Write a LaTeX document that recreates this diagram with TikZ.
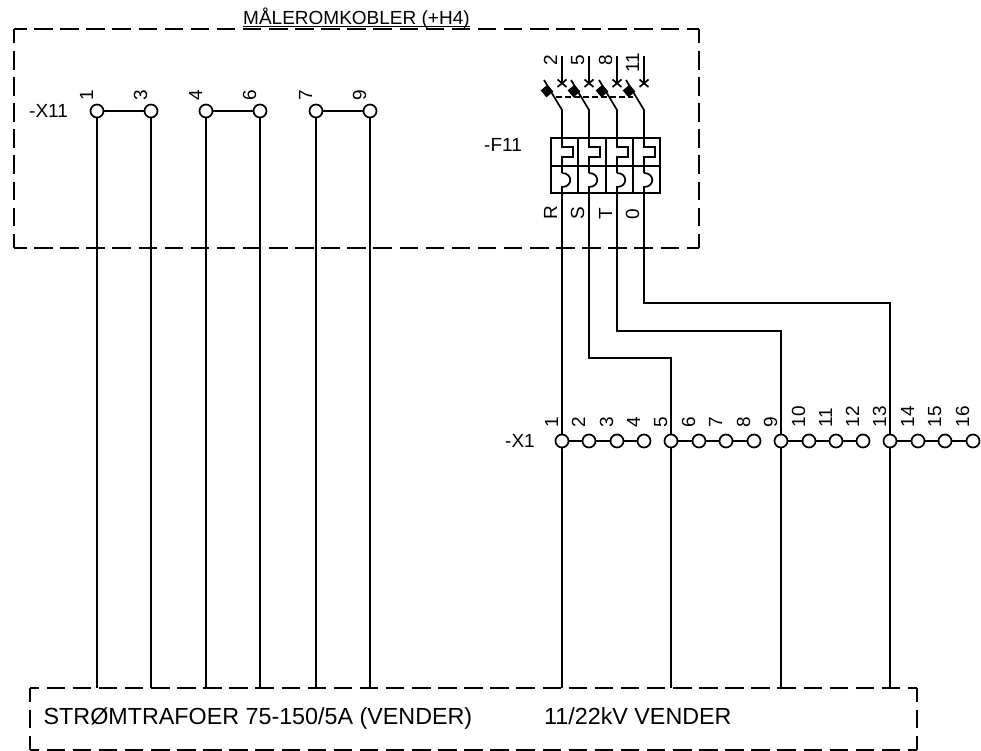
\documentclass[tikz,border=0pt]{standalone}
\usepackage{fontspec}
\setmainfont{Liberation Sans}
\tikzset{
  px/.style={x=1pt,y=-1pt},
  wire/.style={draw=black,line width=1.7pt},
  dashline/.style={draw=black,line width=1.7pt,dash pattern=on 18.5pt off 7.6pt},
  term/.style={circle,draw=black,fill=white,line width=1.7pt,minimum size=13pt,inner sep=0pt,outer sep=0pt},
  lbl/.style={font=\fontsize{19}{21}\selectfont,inner sep=0pt,anchor=base west},
  numl/.style={font=\fontsize{19}{21}\selectfont,inner sep=0pt,rotate=90,anchor=base west},
  big/.style={font=\fontsize{23.3}{25}\selectfont,inner sep=0pt,anchor=base west}
}
\begin{document}
\begin{tikzpicture}[px]
\useasboundingbox (0,0) rectangle (981,751);
% dashed boxes: each side drawn on its own so that the corners carry a dash
\draw[dashline,dash phase=6pt] (14,29) -- (699,29);
\draw[dashline,dash phase=6pt] (14,248) -- (699,248);
\draw[dashline,dash phase=4pt] (14,29) -- (14,248);
\draw[dashline,dash phase=4pt] (699,29) -- (699,248);
\draw[dashline,dash phase=9.5pt] (30,688) -- (917,688);
\draw[dashline,dash phase=9.5pt] (30,750) -- (917,750);
\draw[dashline,dash phase=4.5pt] (30,688) -- (30,750);
\draw[dashline,dash phase=4.5pt] (917,688) -- (917,750);
\node[lbl] (title) at (243,25) {MÅLEROMKOBLER (+H4)};
\draw[line width=1.1pt] (title.base west) ++(0,1.5) -- ++(227,0);
\node[big] (boxa) at (43.5,724) {STRØMTRAFOER 75-150/5A (VENDER)};
\node[big] (boxb) at (544,724) {11/22kV VENDER};
% X11 terminals
\foreach \n/\x/\t in {a/97/1,b/151/3,c/206/4,d/260/6,e/316/7,f/370/9}{
  \coordinate (bot\n) at (\x,688);
  \coordinate (top\n) at (\x,111);
  \draw[wire] (top\n) -- (bot\n);
  \node[term] (xe\n) at (top\n) {};
  \node[numl] (xel\n) at (\x-4,101) {\t};
}
\draw[wire] (xea) -- (xeb);
\draw[wire] (xec) -- (xed);
\draw[wire] (xee) -- (xef);
\node[lbl] (xelabel) at (29,118) {-X11};
% breaker
\node[lbl] (f11) at (484,152) {-F11};
\draw[wire] (551,138) rectangle (660,193);
\draw[wire] (551,166) -- (660,166);
\foreach \x in {578,606,633}{ \draw[wire] (\x,138) -- (\x,193); }
\foreach \n/\x/\t/\ly in {1/562/2/66,2/589/5/66,3/617/8/66,4/644/11/73}{
  \coordinate (ta\n) at (\x,56);
  \coordinate (tb\n) at (\x,84);
  \draw[wire] (ta\n) -- (tb\n);
  \draw[wire] (\x-4.5,79.5) -- (\x+4.5,87);
  \draw[wire] (\x+4.5,79.5) -- (\x-4.5,87);
  \draw[wire] (\x-18,80) -- (\x,110) -- (\x,147) -- (\x+11,147) -- (\x+11,157) -- (\x,157) -- (\x,173);
  \draw[wire] (\x,173) .. controls (\x+11,173) and (\x+11,187) .. (\x,187) -- (\x,193);
  \node[numl] (n\n) at (\x-5,\ly) {\t};
  \fill[black,rotate around={40:(\x-15,91)}] (\x-19.5,86.5) rectangle (\x-10.5,95.5);
}
\draw[wire,dash pattern=on 6pt off 3pt] (556,97) -- (633,97);
\foreach \x/\t in {562/R,589/S,617/T,644/0}{
  \node[numl] (ph\t) at (\x-5,220) {\t};
}
% X1 terminal row
\foreach \x/\t in {562/1,589/2,617/3,644/4,671/5,699/6,726/7,754/8,781/9,809/10,836/11,863/12,890/13,918/14,945/15,973/16}{
  \coordinate (c\t) at (\x,441);
  \coordinate (cb\t) at (\x,688);
}
% wires from breaker to X1 and on to the bottom box
\coordinate (fr) at (562,193);
\coordinate (fs) at (589,193);
\coordinate (ft) at (617,193);
\coordinate (fo) at (644,193);
\draw[wire] (fr) -- (c1) -- (cb1);
\draw[wire] (fs) -- (589,358) -- (671,358) -- (c5) -- (cb5);
\draw[wire] (ft) -- (617,331) -- (781,331) -- (c9) -- (cb9);
\draw[wire] (fo) -- (644,303) -- (890,303) -- (c13) -- (cb13);
\foreach \a/\b in {1/4,5/8,9/12,13/16}{ \draw[wire] (c\a) -- (c\b); }
\foreach \t/\x in {1/562,2/589,3/617,4/644,5/671,6/699,7/726,8/754,9/781,10/809,11/836,12/863,13/890,14/918,15/945,16/973}{
  \node[term] (tx\t) at (c\t) {};
  \node[numl] (tl\t) at (\x-4,427.5) {\t};
}
\node[lbl] (xone) at (505,447) {-X1};
\end{tikzpicture}
\end{document}
